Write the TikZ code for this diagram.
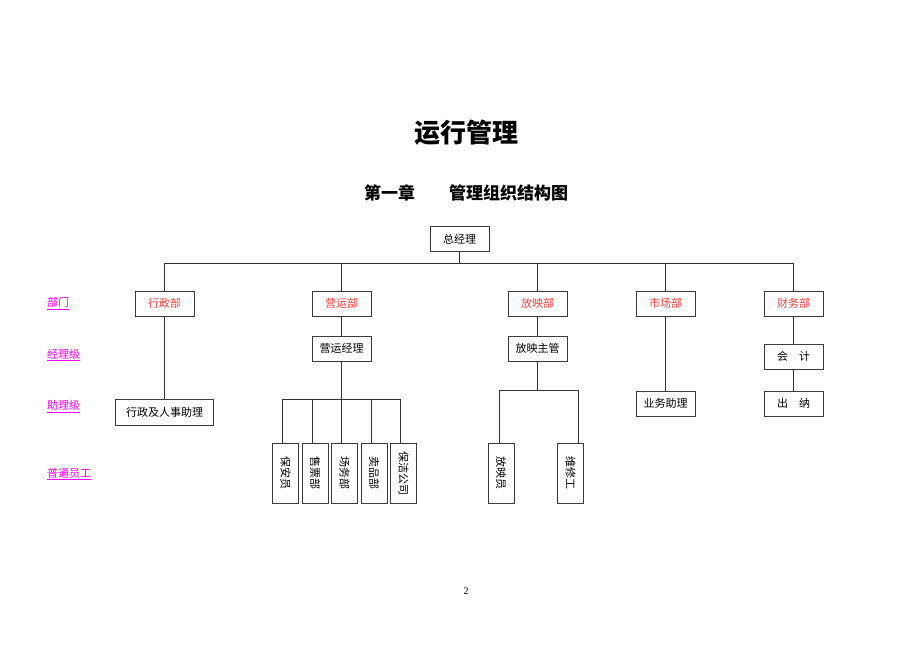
\documentclass[tikz,border=0pt]{standalone}
\usepackage{fontspec}
\setmainfont{Liberation Serif}
\newfontfamily\cjk{Noto Sans CJK SC}
\usepackage{tikz}

\definecolor{deptred}{RGB}{255,64,64}
\definecolor{levelpink}{RGB}{255,0,255}
\definecolor{boxline}{RGB}{60,60,60}

\tikzset{
  box/.style={draw=boxline, line width=1pt, fill=white, minimum width=59pt,
    minimum height=25pt, inner sep=0pt, font=\cjk\fontsize{11}{11}\selectfont},
  dept/.style={box, text=deptred},
  vbox/.style={box, minimum width=26pt, minimum height=60pt},
  level/.style={anchor=west, text=levelpink, inner sep=0pt,
    font=\cjk\fontsize{11}{11}\selectfont},
  link/.style={draw=black!80, line width=0.8pt},
}

\begin{document}
\begin{tikzpicture}[x=1pt, y=-1pt]

\fill[white] (0,0) rectangle (920,651);
\useasboundingbox (0,0) rectangle (920,651);

% titles
\node[font=\cjk\bfseries\fontsize{26}{26}\selectfont] (title) at (466,133) {运行管理};
\node[font=\cjk\bfseries\fontsize{17}{17}\selectfont] (sub) at (466,193) {第一章　　管理组织结构图};

% levels
\node[level] (lvDept) at (47,303.5) {\underline{部门}};
\node[level] (lvMgr) at (47,355) {\underline{经理级}};
\node[level] (lvAsst) at (47,406.5) {\underline{助理级}};
\node[level] (lvStaff) at (47,474) {\underline{普通员工}};

% bus points
\coordinate (top) at (459.5,263);
\coordinate (yyBus) at (341.5,399);
\coordinate (fyBus) at (537.5,390);

% connectors
\draw[link] (459.5,239) -- (top);
\draw[link] (164.5,303.5) |- (top);
\draw[link] (341.5,303.5) |- (top);
\draw[link] (537.5,303.5) |- (top);
\draw[link] (665.5,303.5) |- (top);
\draw[link] (793.5,303.5) |- (top);

% nodes
\node[box] (gm) at (459.5,239) {总经理};

\node[dept] (xz) at (164.5,303.5) {行政部};
\node[dept] (yy) at (341.5,303.5) {营运部};
\node[dept] (fy) at (537.5,303.5) {放映部};
\node[dept] (sc) at (665.5,303.5) {市场部};
\node[dept] (cw) at (793.5,303.5) {财务部};

\node[box] (yyjl) at (341.5,348.5) {营运经理};
\node[box] (fyzg) at (537.5,348.5) {放映主管};
\node[box] (kj) at (793.5,356.5) {会　计};
\node[box] (cn) at (793.5,403.5) {出　纳};
\node[box] (ywzl) at (665.5,403.5) {业务助理};
\node[box, minimum width=98pt, minimum height=26pt] (xzzl) at (164.5,412) {行政及人事助理};

\node[vbox] (bay) at (285.5,473) {\rotatebox{-90}{保安员}};
\node[vbox] (spb) at (315,473) {\rotatebox{-90}{售票部}};
\node[vbox] (swb) at (344.5,473) {\rotatebox{-90}{场务部}};
\node[vbox] (mpb) at (374,473) {\rotatebox{-90}{卖品部}};
\node[vbox] (bjgs) at (403.5,473) {\rotatebox{-90}{保洁公司}};
\node[vbox] (fyy) at (501,473) {\rotatebox{-90}{放映员}};
\node[vbox] (wxg) at (570.5,473) {\rotatebox{-90}{维修工}};

% lines
\draw[link] (xz) -- (xzzl);
\draw[link] (yy) -- (yyjl);
\draw[link] (fy) -- (fyzg);
\draw[link] (sc) -- (ywzl);
\draw[link] (cw) -- (kj);
\draw[link] (kj) -- (cn);

\draw[link] (yyjl) -- (yyBus);
\draw[link] ([xshift=-3pt]bay.north) |- (yyBus);
\draw[link] ([xshift=-3pt]spb.north) |- (yyBus);
\draw[link] ([xshift=-3pt]swb.north) |- (yyBus);
\draw[link] ([xshift=-3pt]mpb.north) |- (yyBus);
\draw[link] ([xshift=-3pt]bjgs.north) |- (yyBus);

\draw[link] (fyzg) -- (fyBus);
\draw[link] ([xshift=-2pt]fyy.north) |- (fyBus);
\draw[link] ([xshift=7.5pt]wxg.north) |- (fyBus);

% page number
\node[font=\fontsize{10}{10}\selectfont] (page) at (466,591) {2};

\end{tikzpicture}
\end{document}
